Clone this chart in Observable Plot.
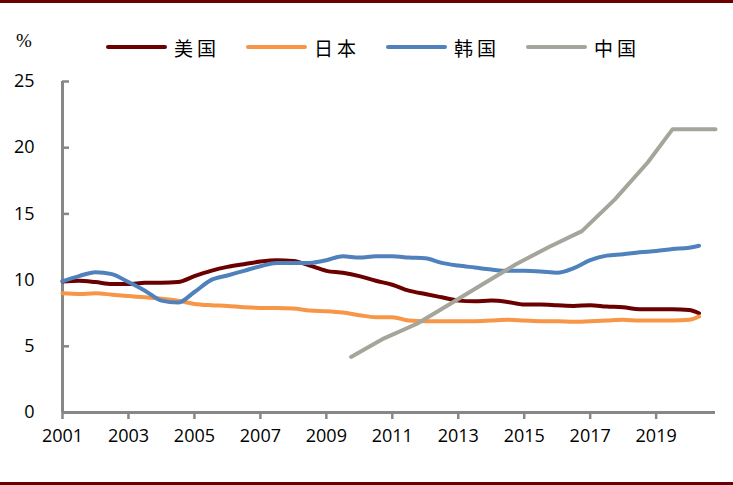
<!DOCTYPE html>
<html>
<head>
<meta charset="utf-8">
<script src="https://cdn.jsdelivr.net/npm/d3@7"></script>
<script src="https://cdn.jsdelivr.net/npm/@observablehq/plot@0.6"></script>
<style>
  html, body { margin: 0; padding: 0; background: #fff; }
  #wrap { position: relative; width: 733px; height: 485px; overflow: hidden; background: #fff; }
  .bar { position: absolute; left: 0; width: 733px; height: 3px; background: #6b0000; }
  #pct { position: absolute; left: 16px; top: 30px; font: 19px "Liberation Serif", serif; color: #000; }
  #legend { position: absolute; left: 106px; top: 34px; display: flex; align-items: center; height: 26px;
            font-family: "Noto Sans CJK SC", sans-serif; font-size: 19px; color: #000; }
  .item { display: flex; align-items: center; margin-right: 26px; }
  .swatch { width: 61px; height: 4px; border-radius: 2px; margin-right: 7px; }
  .lab { letter-spacing: 4px; }
  #chart { position: absolute; left: 0; top: 0; }
</style>
</head>
<body>
<div id="wrap">
  <div class="bar" style="top:0"></div>
  <div class="bar" style="top:482px"></div>
  <div id="pct">%</div>
  <div id="legend"></div>
  <div id="chart"></div>
</div>
<script>
// Series names and colours
const seriesNames = ["美国", "日本", "韩国", "中国"];
const seriesColors = ["#6b0000", "#f79646", "#4f81bd", "#a5a59b"];

// Shared half-year time grid for 美国 / 日本 / 韩国
const years = [2001, 2001.5, 2002, 2002.5, 2003, 2003.5, 2004, 2004.5, 2005, 2005.5,
  2006, 2006.5, 2007, 2007.5, 2008, 2008.5, 2009, 2009.5, 2010, 2010.5,
  2011, 2011.5, 2012, 2012.5, 2013, 2013.5, 2014, 2014.5, 2015, 2015.5,
  2016, 2016.5, 2017, 2017.5, 2018, 2018.5, 2019, 2019.5, 2020, 2020.3];

const usValues = [9.9, 9.95, 9.85, 9.7, 9.7, 9.8, 9.8, 9.85, 10.3, 10.7,
  11.0, 11.2, 11.4, 11.5, 11.45, 11.1, 10.7, 10.55, 10.3, 9.95,
  9.65, 9.2, 8.95, 8.7, 8.45, 8.4, 8.45, 8.35, 8.15, 8.15,
  8.1, 8.05, 8.1, 8.0, 7.95, 7.8, 7.8, 7.8, 7.75, 7.5];

const jpValues = [9.0, 8.95, 9.0, 8.9, 8.8, 8.7, 8.6, 8.45, 8.2, 8.1,
  8.05, 7.95, 7.9, 7.9, 7.85, 7.7, 7.65, 7.55, 7.35, 7.2,
  7.2, 6.95, 6.9, 6.9, 6.9, 6.9, 6.95, 7.0, 6.95, 6.9,
  6.9, 6.85, 6.9, 6.95, 7.0, 6.95, 6.95, 6.95, 7.0, 7.25];

const krValues = [9.9, 10.3, 10.6, 10.45, 9.85, 9.2, 8.45, 8.3, 9.1, 10.0,
  10.35, 10.7, 11.05, 11.3, 11.3, 11.3, 11.5, 11.8, 11.7, 11.8,
  11.8, 11.7, 11.65, 11.3, 11.1, 10.95, 10.8, 10.7, 10.7, 10.65,
  10.55, 10.9, 11.5, 11.85, 11.95, 12.1, 12.2, 12.35, 12.45, 12.6];

// 中国 has its own sampling
const cnYears = [2009.75, 2010.75, 2011.75, 2012.75, 2013.75, 2014.75, 2015.75, 2016.75, 2017.75, 2018.75, 2019.5, 2020.8];
const cnValues = [4.2, 5.6, 6.7, 8.2, 9.7, 11.2, 12.5, 13.7, 16.1, 18.9, 21.4, 21.4];

// Axis ticks
const xTicks = [2001, 2003, 2005, 2007, 2009, 2011, 2013, 2015, 2017, 2019];
const yTicks = [0, 5, 10, 15, 20, 25];
const xDomain = [2001, 2020.8];

// Build tidy table
const rows = [];
[usValues, jpValues, krValues].forEach((vals, i) => {
  vals.forEach((v, j) => rows.push({series: seriesNames[i], year: years[j], value: v}));
});
cnValues.forEach((v, j) => rows.push({series: seriesNames[3], year: cnYears[j], value: v}));

// Legend
const legend = document.getElementById("legend");
seriesNames.forEach((name, i) => {
  const item = document.createElement("div");
  item.className = "item";
  const sw = document.createElement("div");
  sw.className = "swatch";
  sw.style.background = seriesColors[i];
  const lab = document.createElement("span");
  lab.className = "lab";
  lab.textContent = name;
  item.appendChild(sw);
  item.appendChild(lab);
  legend.appendChild(item);
});

const axisGray = "#878787";
const chart = Plot.plot({
  width: 733,
  height: 485,
  marginLeft: 62,
  marginRight: 18,
  marginTop: 81,
  marginBottom: 73,
  style: {fontFamily: "'Open Sans', sans-serif", fontSize: "18px", color: "#000", background: "transparent"},
  x: {domain: xDomain},
  y: {domain: [0, 25]},
  color: {domain: seriesNames, range: seriesColors},
  marks: [
    Plot.ruleY(yTicks, {stroke: axisGray, strokeWidth: 2.5, insetRight: 646}),
    Plot.ruleX([xDomain[0]], {stroke: axisGray, strokeWidth: 3}),
    Plot.ruleY([0], {stroke: axisGray, strokeWidth: 3}),
    Plot.axisX({ticks: xTicks, tickFormat: d => String(d), tickSize: 7, tickPadding: 10,
                stroke: axisGray, strokeWidth: 2.5, fill: "#000", label: null}),
    Plot.axisY({ticks: yTicks, tickSize: 0, tickPadding: 28, fill: "#000", label: null}),
    Plot.line(rows.filter(d => d.series !== "中国"), {
      x: "year", y: "value", z: "series", stroke: "series",
      strokeWidth: 4, curve: "monotone-x", strokeLinejoin: "round", strokeLinecap: "round"
    }),
    Plot.line(rows.filter(d => d.series === "中国"), {
      x: "year", y: "value", stroke: "series",
      strokeWidth: 4, strokeLinejoin: "round", strokeLinecap: "round"
    })
  ]
});
document.getElementById("chart").appendChild(chart);
</script>
</body>
</html>
